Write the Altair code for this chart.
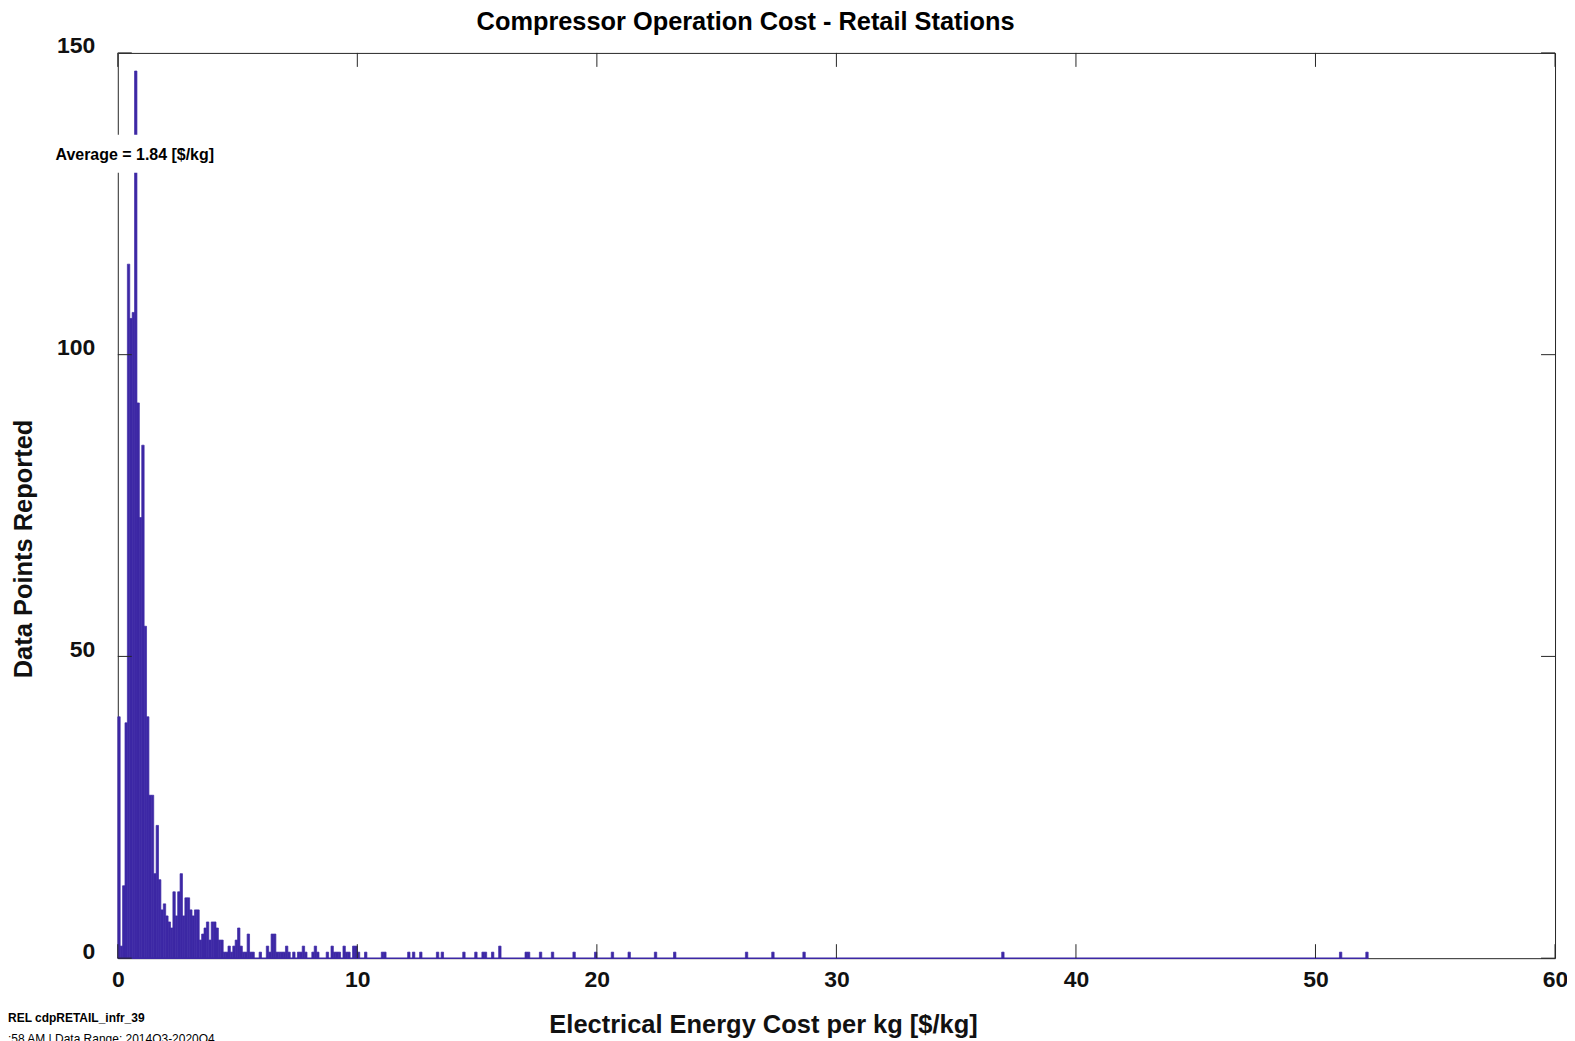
import altair as alt
import pandas as pd

# ---------------- data ----------------
bin_width = 0.1
# counts for consecutive bins starting at 0.0 (0.0-0.1, 0.1-0.2, ...)
dense_counts = [40, 2, 12, 39, 115, 106, 107, 147, 92, 73,
                85, 55, 40, 27, 27, 14, 22, 13, 8, 9,
                7, 6, 5, 11, 7, 11, 14, 7, 10, 10,
                8, 7, 8, 8, 3, 4, 5, 6, 3, 6,
                6, 5, 3, 3, 1, 1, 2, 1, 2, 3,
                5, 2, 1, 1, 4, 1, 1]
# isolated bins further out (bin index) and their counts
sparse_bins = [59, 62, 63, 64, 65, 66, 67, 68, 69, 70,
               71, 73, 75, 76, 77, 78, 81, 82, 83, 87,
               89, 90, 91, 92, 94, 95, 96, 98, 99, 100,
               103, 110, 111, 121, 123, 126, 133, 135, 144, 149,
               152, 153, 156, 159, 170, 171, 176, 181, 190, 199,
               206, 213, 224, 232, 262, 273, 286, 369, 510, 521]
sparse_counts = [1, 2, 1, 4, 4, 1, 1, 1, 1, 2,
                 1, 1, 1, 1, 2, 1, 1, 2, 1, 1,
                 2, 1, 1, 1, 2, 1, 1, 2, 2, 1,
                 1, 1, 1, 1, 1, 1, 1, 1, 1, 1,
                 1, 1, 1, 2, 1, 1, 1, 1, 1, 1,
                 1, 1, 1, 1, 1, 1, 1, 1, 1, 1]
last_bin_edge = 52.2

x_ticks = [0, 10, 20, 30, 40, 50, 60]
y_ticks = [0, 50, 100, 150]

title_text = "Compressor Operation Cost - Retail Stations"
x_title = "Electrical Energy Cost per kg [$/kg]"
y_title = "Data Points Reported"
avg_text = "Average = 1.84 [$/kg]"
foot1 = "REL cdpRETAIL_infr_39"
foot2 = ":58 AM | Data Range: 2014Q3-2020Q4"

# ---------------- build table ----------------
idx = list(range(len(dense_counts))) + sparse_bins
cnt = dense_counts + sparse_counts
hist = pd.DataFrame({
    "start": [round(i * bin_width, 3) for i in idx],
    "end": [round((i + 1) * bin_width, 3) for i in idx],
    "count": cnt,
})
hist = hist[hist["count"] > 0].copy()
hist["zero"] = 0

W, H = 1440, 907
FONT = "Liberation Sans"
BAR = "#3D28A5"
AX = "#262626"

xs = alt.Scale(domain=[0, 60], nice=False, zero=False)
ys = alt.Scale(domain=[0, 150], nice=False)

bars = alt.Chart(hist).mark_bar(color=BAR, stroke=BAR, strokeWidth=0.7, opacity=1).encode(
    x=alt.X("start:Q", scale=xs,
            axis=alt.Axis(values=x_ticks, title=None, grid=False, ticks=False, domain=False,
                          labelFont=FONT, labelFontSize=23, labelFontWeight="bold",
                          labelColor="#111111", labelPadding=10, labelFlush=False)),
    x2="end:Q",
    y=alt.Y("count:Q", scale=ys,
            axis=alt.Axis(values=y_ticks, title=None, grid=False, ticks=False, domain=False,
                          labelFont=FONT, labelFontSize=23, labelFontWeight="bold",
                          labelColor="#111111", labelPadding=23, labelOffset=-7)),
    y2="zero:Q",
)

baseline = alt.Chart(pd.DataFrame({"a": [0.0], "b": [last_bin_edge], "y": [0]})).mark_rule(
    color=BAR, strokeWidth=1.5).encode(x=alt.X("a:Q", scale=xs), x2="b:Q", y=alt.Y("y:Q", scale=ys))

xt = pd.DataFrame({"v": x_ticks})
yt = pd.DataFrame({"v": y_ticks})
TL = 14
tick_bottom = alt.Chart(xt).mark_rule(color=AX, strokeWidth=1).encode(
    x=alt.X("v:Q", scale=xs), y=alt.value(H), y2=alt.value(H - TL))
tick_top = alt.Chart(xt).mark_rule(color=AX, strokeWidth=1).encode(
    x=alt.X("v:Q", scale=xs), y=alt.value(0), y2=alt.value(TL))
tick_left = alt.Chart(yt).mark_rule(color=AX, strokeWidth=1).encode(
    y=alt.Y("v:Q", scale=ys), x=alt.value(0), x2=alt.value(TL))
tick_right = alt.Chart(yt).mark_rule(color=AX, strokeWidth=1).encode(
    y=alt.Y("v:Q", scale=ys), x=alt.value(W), x2=alt.value(W - TL))

one = pd.DataFrame({"k": [0]})

avg_box = alt.Chart(one).mark_rect(color="white").encode(
    x=alt.value(-68), x2=alt.value(100), y=alt.value(82), y2=alt.value(120))
avg_label = alt.Chart(one).mark_text(font=FONT, fontSize=16, fontWeight="bold", color="black",
                                     align="center", baseline="middle").encode(
    x=alt.value(17), y=alt.value(102), text=alt.value(avg_text))

title = alt.Chart(one).mark_text(font=FONT, fontSize=25.4, fontWeight="bold", color="black",
                                 align="center", baseline="middle").encode(
    x=alt.value(629), y=alt.value(-31), text=alt.value(title_text))
xlab = alt.Chart(one).mark_text(font=FONT, fontSize=25.5, fontWeight="bold", color="#111111",
                                align="center", baseline="middle").encode(
    x=alt.value(647), y=alt.value(974), text=alt.value(x_title))
ylab = alt.Chart(one).mark_text(font=FONT, fontSize=25.5, fontWeight="bold", color="#111111",
                                align="center", baseline="middle", angle=270).encode(
    x=alt.value(-94), y=alt.value(497), text=alt.value(y_title))
f1 = alt.Chart(one).mark_text(font=FONT, fontSize=12, fontWeight="bold", color="black",
                              align="left", baseline="middle").encode(
    x=alt.value(-110), y=alt.value(967), text=alt.value(foot1))
f2 = alt.Chart(one).mark_text(font=FONT, fontSize=12, color="black",
                              align="left", baseline="top").encode(
    x=alt.value(-110), y=alt.value(983), text=alt.value(foot2))

chart = alt.layer(
    bars, baseline, tick_bottom, tick_top, tick_left, tick_right,
    avg_box, avg_label, title, xlab, ylab, f1, f2
).properties(
    width=W, height=H,
    padding={"left": 110, "top": 44, "right": 12, "bottom": 90},
    autosize=alt.AutoSizeParams(type="none"),
    background="white",
).configure_view(stroke=AX, strokeWidth=1)

chart.save("out.html", embed_options={"renderer": "svg", "actions": False})
